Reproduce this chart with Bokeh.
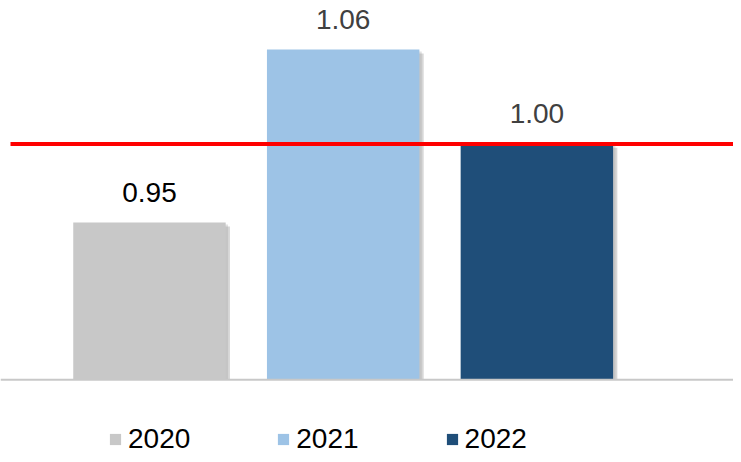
from bokeh.plotting import figure
from bokeh.models import ColumnDataSource, Range1d, Span
from bokeh.transform import dodge
from bokeh.embed import file_html
from bokeh.resources import INLINE

# ---- data ----
years = ["2020", "2021", "2022"]
values = [0.95, 1.06, 1.00]
labels = ["0.95", "1.06", "1.00"]
bar_colors = ["#c8c8c8", "#9dc3e6", "#1f4e79"]
label_colors = ["#000000", "#404040", "#404040"]
target = 1.00
axis_min = 0.85

src = ColumnDataSource(dict(
    x=list(range(len(years))), year=years, value=values, label=labels,
    color=bar_colors, lcolor=label_colors,
    base=[axis_min] * len(years),
))

W, H = 733, 454
X0, X1 = -0.769, 3.015
Y1 = 1.0912
Y0 = Y1 - H / 1572.7
p = figure(width=W, height=H, output_backend="svg", toolbar_location=None,
           x_range=Range1d(X0, X1), y_range=Range1d(Y0, Y1),
           min_border=0, outline_line_color=None)
p.xaxis.visible = False
p.yaxis.visible = False
p.grid.visible = False
p.background_fill_color = "white"
p.border_fill_color = "white"

# shadow
p.vbar(x=dodge("x", 0.022), top=dodge("value", -0.0025), bottom="base", width=0.787,
       source=src, fill_color="#9a9a9a", fill_alpha=0.4, line_color=None)
p.vbar(x=dodge("x", 0.012), top=dodge("value", -0.0013), bottom="base", width=0.787,
       source=src, fill_color="#9a9a9a", fill_alpha=0.3, line_color=None)

bars = p.vbar(x="x", top="value", bottom="base", width=0.787, source=src,
              fill_color="color", line_color=None, legend_field="year")

# baseline and target line
p.add_layout(Span(location=axis_min, dimension="width", line_color="#c8c8c8", line_width=2))
p.segment(x0=[X0 + 10 / 193.7], x1=[X1 + 1], y0=[target], y1=[target],
          line_color="#ff0000", line_width=4)

# value labels
p.text(x="x", y="value", text="label", source=src, text_color="lcolor",
       text_align="center", text_baseline="alphabetic", y_offset=-30,
       text_font_size="28px", text_font={"value": "Liberation Sans"})

lg = p.legend[0]
lg.orientation = "horizontal"
lg.location = (108, -1)
lg.padding = 0
lg.margin = 0
lg.spacing = 86
lg.glyph_width = 14
lg.glyph_height = 14
lg.label_standoff = 6
lg.label_text_font = "Liberation Sans"
lg.label_text_font_size = "28px"
lg.label_text_color = "#000000"
lg.border_line_color = None
lg.background_fill_alpha = 0

open("out.html", "w").write(file_html(p, INLINE))
